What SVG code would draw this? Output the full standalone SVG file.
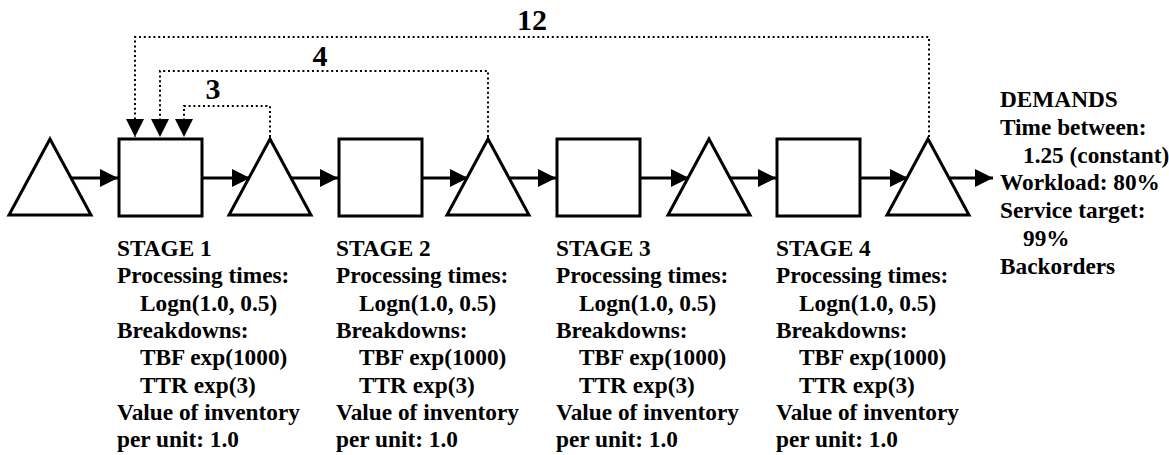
<svg xmlns="http://www.w3.org/2000/svg" width="1169" height="455" viewBox="0 0 1169 455" font-family="Liberation Serif, DejaVu Serif, serif">
  <style>
    .shape { fill: #fff; stroke: #000; stroke-width: 3; stroke-linejoin: miter; }
    .flow { fill: none; stroke: #000; stroke-width: 3; }
    .info { fill: none; stroke: #000; stroke-width: 2; stroke-dasharray: 2 2.8; }
    .lbl { font-family: 'Liberation Serif', 'DejaVu Serif', serif; font-weight: bold; font-size: 23.3px; fill: #000; }
    .num { font-family: 'Liberation Serif', 'DejaVu Serif', serif; font-weight: bold; font-size: 30px; text-anchor: middle; fill: #000; }
  </style>
  <defs>
    <marker id="head" markerUnits="userSpaceOnUse" markerWidth="18" markerHeight="18" viewBox="0 0 18 18" refX="18" refY="9" orient="auto">
      <path d="M0,0 L18,9 L0,18 Z" fill="#000"/>
    </marker>
  </defs>

  <!-- buffers (triangles) and stages (squares) -->
  <g id="buffer0"><polygon class="shape" points="50,139 91,215 9,215"/></g>
  <g id="stage1"><rect class="shape" x="119" y="139" width="83" height="77"/></g>
  <g id="buffer1"><polygon class="shape" points="270,139 311,215 229,215"/></g>
  <g id="stage2"><rect class="shape" x="339" y="139" width="83" height="77"/></g>
  <g id="buffer2"><polygon class="shape" points="488,139 529,215 447,215"/></g>
  <g id="stage3"><rect class="shape" x="557" y="139" width="83" height="77"/></g>
  <g id="buffer3"><polygon class="shape" points="709,139 750,215 668,215"/></g>
  <g id="stage4"><rect class="shape" x="777" y="139" width="83" height="77"/></g>
  <g id="buffer4"><polygon class="shape" points="928,139 969,215 887,215"/></g>

  <!-- material flow and information feedback -->
  <g id="connectors">
    <line class="flow" x1="71" y1="178" x2="118" y2="178" marker-end="url(#head)"/>
    <line class="flow" x1="203" y1="178" x2="250" y2="178" marker-end="url(#head)"/>
    <line class="flow" x1="291" y1="178" x2="338" y2="178" marker-end="url(#head)"/>
    <line class="flow" x1="423" y1="178" x2="468" y2="178" marker-end="url(#head)"/>
    <line class="flow" x1="509" y1="178" x2="556" y2="178" marker-end="url(#head)"/>
    <line class="flow" x1="641" y1="178" x2="689" y2="178" marker-end="url(#head)"/>
    <line class="flow" x1="730" y1="178" x2="776" y2="178" marker-end="url(#head)"/>
    <line class="flow" x1="861" y1="178" x2="908" y2="178" marker-end="url(#head)"/>
    <line class="flow" x1="949" y1="178" x2="993" y2="178" marker-end="url(#head)"/>

    <path class="info" d="M929,137 V37 H135 V137" marker-end="url(#head)"/>
    <path class="info" d="M488,137 V71 H160 V137" marker-end="url(#head)"/>
    <path class="info" d="M270,137 V106 H184 V137" marker-end="url(#head)"/>

    <text class="num" x="532" y="30">12</text>
    <text class="num" x="320" y="66">4</text>
    <text class="num" x="213" y="99">3</text>
  </g>

  <!-- stage parameters -->
  <g id="stage1-info">
    <text class="lbl" x="117" y="256">STAGE 1</text>
    <text class="lbl" x="117" y="283.3">Processing times:</text>
    <text class="lbl" x="140" y="310.6">Logn(1.0, 0.5)</text>
    <text class="lbl" x="117" y="338">Breakdowns:</text>
    <text class="lbl" x="140" y="365.3">TBF exp(1000)</text>
    <text class="lbl" x="140" y="392.6">TTR exp(3)</text>
    <text class="lbl" x="117" y="420">Value of inventory</text>
    <text class="lbl" x="117" y="447.2">per unit: 1.0</text>
  </g>
  <g id="stage2-info">
    <text class="lbl" x="336" y="256">STAGE 2</text>
    <text class="lbl" x="336" y="283.3">Processing times:</text>
    <text class="lbl" x="359" y="310.6">Logn(1.0, 0.5)</text>
    <text class="lbl" x="336" y="338">Breakdowns:</text>
    <text class="lbl" x="359" y="365.3">TBF exp(1000)</text>
    <text class="lbl" x="359" y="392.6">TTR exp(3)</text>
    <text class="lbl" x="336" y="420">Value of inventory</text>
    <text class="lbl" x="336" y="447.2">per unit: 1.0</text>
  </g>
  <g id="stage3-info">
    <text class="lbl" x="556" y="256">STAGE 3</text>
    <text class="lbl" x="556" y="283.3">Processing times:</text>
    <text class="lbl" x="579" y="310.6">Logn(1.0, 0.5)</text>
    <text class="lbl" x="556" y="338">Breakdowns:</text>
    <text class="lbl" x="579" y="365.3">TBF exp(1000)</text>
    <text class="lbl" x="579" y="392.6">TTR exp(3)</text>
    <text class="lbl" x="556" y="420">Value of inventory</text>
    <text class="lbl" x="556" y="447.2">per unit: 1.0</text>
  </g>
  <g id="stage4-info">
    <text class="lbl" x="776" y="256">STAGE 4</text>
    <text class="lbl" x="776" y="283.3">Processing times:</text>
    <text class="lbl" x="799" y="310.6">Logn(1.0, 0.5)</text>
    <text class="lbl" x="776" y="338">Breakdowns:</text>
    <text class="lbl" x="799" y="365.3">TBF exp(1000)</text>
    <text class="lbl" x="799" y="392.6">TTR exp(3)</text>
    <text class="lbl" x="776" y="420">Value of inventory</text>
    <text class="lbl" x="776" y="447.2">per unit: 1.0</text>
  </g>

  <!-- customer demand -->
  <g id="demands">
    <text class="lbl" x="1000" y="107">DEMANDS</text>
    <text class="lbl" x="1000" y="134.8">Time between:</text>
    <text class="lbl" x="1023" y="162.6">1.25 (constant)</text>
    <text class="lbl" x="1000" y="190.4">Workload: 80%</text>
    <text class="lbl" x="1000" y="218.2">Service target:</text>
    <text class="lbl" x="1023" y="246">99%</text>
    <text class="lbl" x="1000" y="273.8">Backorders</text>
  </g>
</svg>
